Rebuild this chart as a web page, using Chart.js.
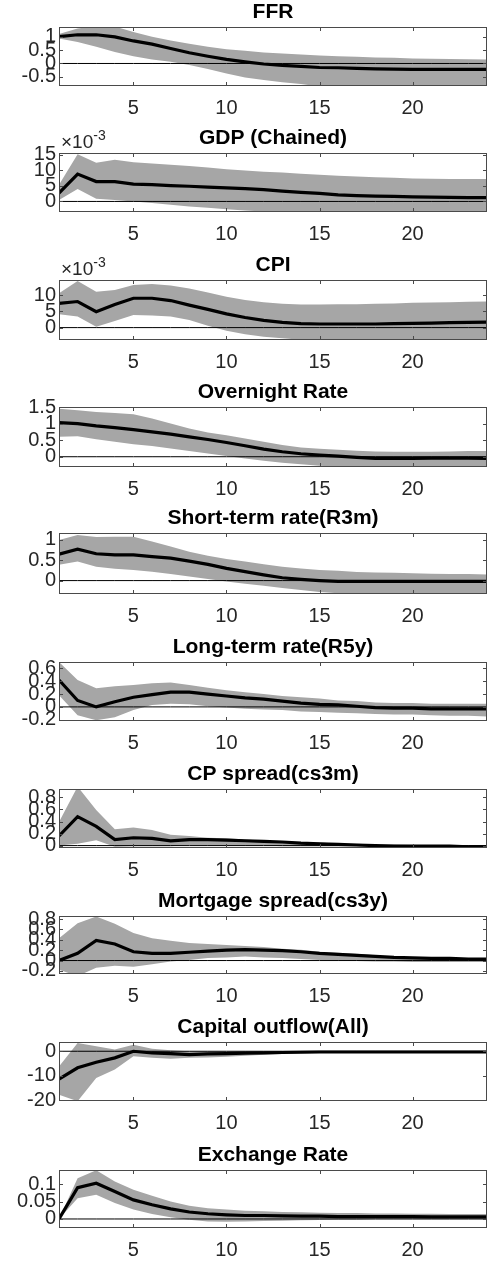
<!DOCTYPE html>
<html>
<head>
<meta charset="utf-8">
<script src="https://cdn.jsdelivr.net/npm/chart.js@4.4.1/dist/chart.umd.min.js"></script>
<style>
  body { margin: 0; background: #fff; }
  #wrap { position: relative; width: 490px; height: 1265px; }
  #wrap canvas { position: absolute; left: 0; }
</style>
</head>
<body>
<div id="wrap"></div>
<script>
// horizons
const periods = [1, 2, 3, 4, 5, 6, 7, 8, 9, 10, 11, 12, 13, 14, 15, 16, 17, 18, 19, 20, 21, 22, 23, 24];
const xTicks = [5, 10, 15, 20];

// impulse responses: median and band
const ffrMid = [1.00, 1.07, 1.07, 0.99, 0.84, 0.72, 0.56, 0.40, 0.27, 0.15, 0.06, -0.02, -0.07, -0.11, -0.15, -0.16, -0.18, -0.20, -0.21, -0.22, -0.22, -0.22, -0.22, -0.22];
const ffrUp  = [1.10, 1.30, 1.40, 1.38, 1.17, 1.00, 0.86, 0.74, 0.62, 0.53, 0.47, 0.41, 0.37, 0.33, 0.30, 0.27, 0.25, 0.22, 0.21, 0.19, 0.18, 0.17, 0.16, 0.15];
const ffrLo  = [0.93, 0.80, 0.62, 0.43, 0.27, 0.15, 0.06, -0.06, -0.21, -0.37, -0.52, -0.62, -0.70, -0.77, -0.86, -0.90, -0.93, -0.95, -0.97, -0.98, -0.99, -1.00, -1.00, -1.00];

const gdpMid = [0.0027, 0.0088, 0.0064, 0.0064, 0.0056, 0.0054, 0.0051, 0.0049, 0.0046, 0.0044, 0.0041, 0.0038, 0.0033, 0.0029, 0.0026, 0.0021, 0.0019, 0.0017, 0.0016, 0.0015, 0.0014, 0.0013, 0.0012, 0.0012];
const gdpUp  = [0.0054, 0.0152, 0.0125, 0.0134, 0.0126, 0.0122, 0.0118, 0.0114, 0.0109, 0.0104, 0.0100, 0.0096, 0.0093, 0.0089, 0.0086, 0.0083, 0.0080, 0.0078, 0.0076, 0.0074, 0.0073, 0.0072, 0.0072, 0.0072];
const gdpLo  = [0.0005, 0.0040, 0.0009, 0.0005, 0.0000, -0.0005, -0.0011, -0.0016, -0.0020, -0.0025, -0.0029, -0.0032, -0.0035, -0.0038, -0.0040, -0.0042, -0.0043, -0.0044, -0.0045, -0.0045, -0.0046, -0.0046, -0.0046, -0.0046];

const cpiMid = [0.0074, 0.0080, 0.0049, 0.0071, 0.0090, 0.0090, 0.0083, 0.0069, 0.0056, 0.0042, 0.0031, 0.0022, 0.0016, 0.0012, 0.0011, 0.0011, 0.0011, 0.0011, 0.0012, 0.0013, 0.0014, 0.0015, 0.0016, 0.0017];
const cpiUp  = [0.0105, 0.0143, 0.0110, 0.0115, 0.0131, 0.0134, 0.0129, 0.0120, 0.0108, 0.0095, 0.0085, 0.0078, 0.0073, 0.0071, 0.0071, 0.0072, 0.0072, 0.0073, 0.0074, 0.0076, 0.0077, 0.0078, 0.0079, 0.0080];
const cpiLo  = [0.0041, 0.0034, 0.0003, 0.0020, 0.0039, 0.0037, 0.0034, 0.0023, 0.0006, -0.0010, -0.0020, -0.0028, -0.0033, -0.0037, -0.0040, -0.0041, -0.0042, -0.0042, -0.0042, -0.0042, -0.0042, -0.0042, -0.0042, -0.0042];

const onMid = [1.03, 1.00, 0.93, 0.88, 0.82, 0.75, 0.68, 0.60, 0.52, 0.43, 0.33, 0.23, 0.15, 0.09, 0.05, 0.02, -0.02, -0.05, -0.05, -0.05, -0.04, -0.04, -0.04, -0.05];
const onUp  = [1.45, 1.40, 1.35, 1.32, 1.28, 1.15, 1.00, 0.85, 0.73, 0.65, 0.55, 0.45, 0.35, 0.28, 0.24, 0.21, 0.18, 0.16, 0.15, 0.15, 0.15, 0.16, 0.17, 0.17];
const onLo  = [0.60, 0.62, 0.53, 0.45, 0.38, 0.32, 0.25, 0.17, 0.10, 0.02, -0.05, -0.12, -0.18, -0.23, -0.27, -0.30, -0.34, -0.36, -0.37, -0.38, -0.38, -0.38, -0.38, -0.38];

const r3mMid = [0.65, 0.77, 0.66, 0.63, 0.63, 0.59, 0.55, 0.48, 0.40, 0.30, 0.22, 0.14, 0.07, 0.03, 0.00, -0.02, -0.02, -0.02, -0.02, -0.02, -0.02, -0.02, -0.02, -0.02];
const r3mUp  = [1.00, 1.12, 1.07, 1.08, 1.08, 0.96, 0.84, 0.71, 0.61, 0.53, 0.47, 0.40, 0.34, 0.30, 0.26, 0.24, 0.21, 0.20, 0.19, 0.18, 0.17, 0.16, 0.16, 0.15];
const r3mLo  = [0.39, 0.47, 0.34, 0.29, 0.26, 0.22, 0.16, 0.10, 0.04, -0.02, -0.08, -0.13, -0.18, -0.23, -0.28, -0.31, -0.34, -0.36, -0.37, -0.37, -0.37, -0.37, -0.37, -0.37];

const r5yMid = [0.42, 0.10, 0.00, 0.08, 0.15, 0.19, 0.23, 0.23, 0.20, 0.17, 0.14, 0.12, 0.09, 0.06, 0.04, 0.03, 0.01, -0.01, -0.02, -0.02, -0.03, -0.03, -0.03, -0.03];
const r5yUp  = [0.70, 0.42, 0.29, 0.32, 0.34, 0.37, 0.38, 0.34, 0.30, 0.26, 0.23, 0.20, 0.17, 0.15, 0.13, 0.10, 0.09, 0.07, 0.06, 0.06, 0.05, 0.05, 0.05, 0.05];
const r5yLo  = [0.18, -0.13, -0.21, -0.16, -0.05, 0.03, 0.05, 0.04, 0.01, -0.01, -0.03, -0.04, -0.05, -0.07, -0.08, -0.09, -0.10, -0.11, -0.12, -0.12, -0.13, -0.14, -0.14, -0.15];

const cs3mMid = [0.16, 0.48, 0.32, 0.10, 0.13, 0.12, 0.08, 0.10, 0.10, 0.09, 0.08, 0.07, 0.06, 0.04, 0.03, 0.02, 0.01, 0.00, -0.01, -0.01, -0.01, -0.01, -0.02, -0.02];
const cs3mUp  = [0.39, 0.98, 0.59, 0.27, 0.30, 0.26, 0.18, 0.16, 0.13, 0.12, 0.10, 0.08, 0.06, 0.05, 0.05, 0.03, 0.03, 0.02, 0.02, 0.01, 0.01, 0.01, 0.01, 0.00];
const cs3mLo  = [0.00, 0.03, 0.09, -0.02, -0.01, -0.01, -0.01, 0.01, 0.00, 0.00, 0.00, 0.00, -0.01, -0.01, -0.01, -0.01, -0.01, -0.02, -0.02, -0.02, -0.02, -0.02, -0.03, -0.03];

const cs3yMid = [0.00, 0.14, 0.39, 0.32, 0.17, 0.14, 0.14, 0.16, 0.18, 0.20, 0.21, 0.20, 0.19, 0.17, 0.14, 0.12, 0.10, 0.08, 0.06, 0.05, 0.04, 0.04, 0.03, 0.03];
const cs3yUp  = [0.43, 0.72, 0.85, 0.71, 0.53, 0.43, 0.38, 0.34, 0.32, 0.30, 0.28, 0.26, 0.23, 0.21, 0.17, 0.15, 0.13, 0.10, 0.08, 0.06, 0.06, 0.05, 0.05, 0.05];
const cs3yLo  = [-0.18, -0.30, -0.14, -0.10, -0.12, -0.07, -0.02, 0.01, 0.05, 0.06, 0.08, 0.06, 0.05, 0.03, 0.01, 0.00, -0.01, -0.02, -0.02, -0.03, -0.03, -0.03, -0.03, -0.03];

const capMid = [-11.4, -6.8, -4.5, -2.7, 0.0, -0.7, -1.0, -1.4, -1.1, -1.0, -0.8, -0.7, -0.5, -0.4, -0.3, -0.3, -0.3, -0.3, -0.3, -0.3, -0.3, -0.3, -0.3, -0.3];
const capUp  = [-6.2, 3.4, 2.1, 0.7, 2.7, 1.0, 0.4, 0.0, 0.0, 0.0, 0.0, 0.0, -0.1, -0.1, -0.1, -0.1, -0.1, -0.1, -0.1, -0.1, -0.1, -0.1, -0.1, -0.1];
const capLo  = [-17.8, -20.5, -11.0, -7.5, -2.0, -2.7, -3.1, -2.7, -2.6, -2.3, -1.8, -1.4, -1.1, -0.8, -0.7, -0.5, -0.5, -0.5, -0.4, -0.4, -0.4, -0.4, -0.4, -0.4];

const fxMid = [0.000, 0.090, 0.103, 0.079, 0.055, 0.041, 0.029, 0.020, 0.015, 0.012, 0.010, 0.010, 0.009, 0.008, 0.008, 0.007, 0.007, 0.007, 0.007, 0.007, 0.006, 0.006, 0.006, 0.006];
const fxUp  = [0.000, 0.117, 0.140, 0.108, 0.084, 0.067, 0.050, 0.038, 0.031, 0.027, 0.024, 0.022, 0.020, 0.019, 0.018, 0.017, 0.017, 0.016, 0.016, 0.015, 0.015, 0.014, 0.014, 0.014];
const fxLo  = [0.000, 0.060, 0.070, 0.046, 0.027, 0.014, 0.005, -0.002, -0.007, -0.008, -0.007, -0.006, -0.005, -0.004, -0.003, -0.002, -0.002, -0.001, -0.001, -0.001, -0.001, -0.001, -0.001, -0.001];

// y tick labels per panel
const ffrTicks = [-0.5, 0, 0.5, 1];
const gdpTicks = [0, 0.005, 0.01, 0.015];
const cpiTicks = [0, 0.005, 0.01];
const onTicks = [0, 0.5, 1, 1.5];
const r3mTicks = [0, 0.5, 1];
const r5yTicks = [-0.2, 0, 0.2, 0.4, 0.6];
const cs3mTicks = [0, 0.2, 0.4, 0.6, 0.8];
const cs3yTicks = [-0.2, 0, 0.2, 0.4, 0.6, 0.8];
const capTicks = [-20, -10, 0];
const fxTicks = [0, 0.05, 0.1];

const panels = [
  { title: 'FFR', mid: ffrMid, up: ffrUp, lo: ffrLo, ticks: ffrTicks, min: -0.84, max: 1.36, top: 27, h: 59 },
  { title: 'GDP (Chained)', mid: gdpMid, up: gdpUp, lo: gdpLo, ticks: gdpTicks, min: -0.0034, max: 0.0156, top: 153, h: 59, milli: true },
  { title: 'CPI', mid: cpiMid, up: cpiUp, lo: cpiLo, ticks: cpiTicks, min: -0.0038, max: 0.0146, top: 280, h: 60, milli: true },
  { title: 'Overnight Rate', mid: onMid, up: onUp, lo: onLo, ticks: onTicks, min: -0.31, max: 1.5, top: 407, h: 60 },
  { title: 'Short-term rate(R3m)', mid: r3mMid, up: r3mUp, lo: r3mLo, ticks: r3mTicks, min: -0.33, max: 1.17, top: 533, h: 61 },
  { title: 'Long-term rate(R5y)', mid: r5yMid, up: r5yUp, lo: r5yLo, ticks: r5yTicks, min: -0.22, max: 0.70, top: 662, h: 59 },
  { title: 'CP spread(cs3m)', mid: cs3mMid, up: cs3mUp, lo: cs3mLo, ticks: cs3mTicks, min: -0.04, max: 0.94, top: 789, h: 59 },
  { title: 'Mortgage spread(cs3y)', mid: cs3yMid, up: cs3yUp, lo: cs3yLo, ticks: cs3yTicks, min: -0.26, max: 0.86, top: 916, h: 58 },
  { title: 'Capital outflow(All)', mid: capMid, up: capUp, lo: capLo, ticks: capTicks, min: -20.4, max: 3.8, top: 1042, h: 59 },
  { title: 'Exchange Rate', mid: fxMid, up: fxUp, lo: fxLo, ticks: fxTicks, min: -0.026, max: 0.141, top: 1170, h: 58 }
];

const FONT = "'Liberation Sans', Arial, sans-serif";
const AXIS = '#262626';
const TITLE_SPACE = 27;
const XLABEL_SPACE = 38;

const pts = arr => periods.map((p, i) => ({ x: p, y: arr[i] }));

// box around the axes with inward tick marks, plus the x10^-3 multiplier
const axesFrame = {
  id: 'axesFrame',
  afterDatasetsDraw(chart, args, opts) {
    const { ctx, chartArea: a, scales } = chart;
    ctx.save();
    ctx.strokeStyle = '#4a4a4a';
    ctx.lineWidth = 1;
    ctx.strokeRect(Math.round(a.left) + 0.5, Math.round(a.top) + 0.5, Math.round(a.width) - 1, Math.round(a.height) - 1);
    ctx.beginPath();
    scales.x.ticks.forEach(t => {
      const px = Math.round(scales.x.getPixelForValue(t.value)) + 0.5;
      ctx.moveTo(px, a.top); ctx.lineTo(px, a.top + 4);
      ctx.moveTo(px, a.bottom); ctx.lineTo(px, a.bottom - 4);
    });
    scales.y.ticks.forEach(t => {
      const py = Math.round(scales.y.getPixelForValue(t.value)) + 0.5;
      if (py < a.top || py > a.bottom) return;
      ctx.moveTo(a.left, py); ctx.lineTo(a.left + 4, py);
      ctx.moveTo(a.right, py); ctx.lineTo(a.right - 4, py);
    });
    ctx.stroke();
    if (opts.milli) {
      ctx.fillStyle = AXIS;
      ctx.textBaseline = 'alphabetic';
      ctx.textAlign = 'left';
      ctx.font = '19px ' + FONT;
      const base = a.top - 5;
      ctx.fillText('\u00d710', a.left + 2, base);
      const w = ctx.measureText('\u00d710').width;
      ctx.font = '14px ' + FONT;
      ctx.fillText('-3', a.left + 2 + w, base - 8);
    }
    ctx.restore();
  }
};

const wrap = document.getElementById('wrap');

panels.forEach(p => {
  const canvas = document.createElement('canvas');
  const height = TITLE_SPACE + p.h + XLABEL_SPACE;
  canvas.width = 490;
  canvas.height = height;
  canvas.style.top = (p.top - TITLE_SPACE) + 'px';
  canvas.style.width = '490px';
  canvas.style.height = height + 'px';
  wrap.appendChild(canvas);

  new Chart(canvas.getContext('2d'), {
    type: 'line',
    data: {
      datasets: [
        { data: pts(p.mid), borderColor: '#000', borderWidth: 3.2, pointRadius: 0, fill: false, tension: 0 },
        { data: pts(periods.map(() => 0)), borderColor: '#000', borderWidth: 1, pointRadius: 0, fill: false },
        { data: pts(p.up), borderWidth: 0, pointRadius: 0, backgroundColor: '#a6a6a6', fill: '+1', clip: 0 },
        { data: pts(p.lo), borderWidth: 0, pointRadius: 0, backgroundColor: '#a6a6a6', fill: false, clip: 0 }
      ]
    },
    plugins: [axesFrame],
    options: {
      responsive: false,
      animation: false,
      devicePixelRatio: 1,
      layout: { padding: { left: 0, right: 3, top: 0, bottom: 0 } },
      plugins: {
        legend: { display: false },
        tooltip: { enabled: false },
        title: {
          display: true,
          text: p.title,
          fullSize: false,
          color: '#000',
          font: { family: FONT, size: 21, weight: 'bold' },
          padding: { top: 0, bottom: 1.8 }
        },
        axesFrame: { milli: !!p.milli }
      },
      scales: {
        x: {
          type: 'linear',
          min: 1,
          max: 24,
          afterBuildTicks: s => { s.ticks = xTicks.map(v => ({ value: v })); },
          afterFit: s => { s.height = XLABEL_SPACE; },
          grid: { display: false, drawTicks: false },
          border: { display: false },
          ticks: { color: AXIS, font: { family: FONT, size: 20 }, padding: 10, maxRotation: 0, autoSkip: false }
        },
        y: {
          type: 'linear',
          min: p.min,
          max: p.max,
          afterBuildTicks: s => { s.ticks = p.ticks.map(v => ({ value: v })); },
          afterFit: s => { s.width = 59; },
          grid: { display: false, drawTicks: false },
          border: { display: false },
          ticks: {
            color: AXIS,
            font: { family: FONT, size: 20 },
            padding: 3,
            autoSkip: false,
            callback: v => p.milli ? String(Math.round(v * 1000)) : String(v)
          }
        }
      }
    }
  });
});
</script>
</body>
</html>
